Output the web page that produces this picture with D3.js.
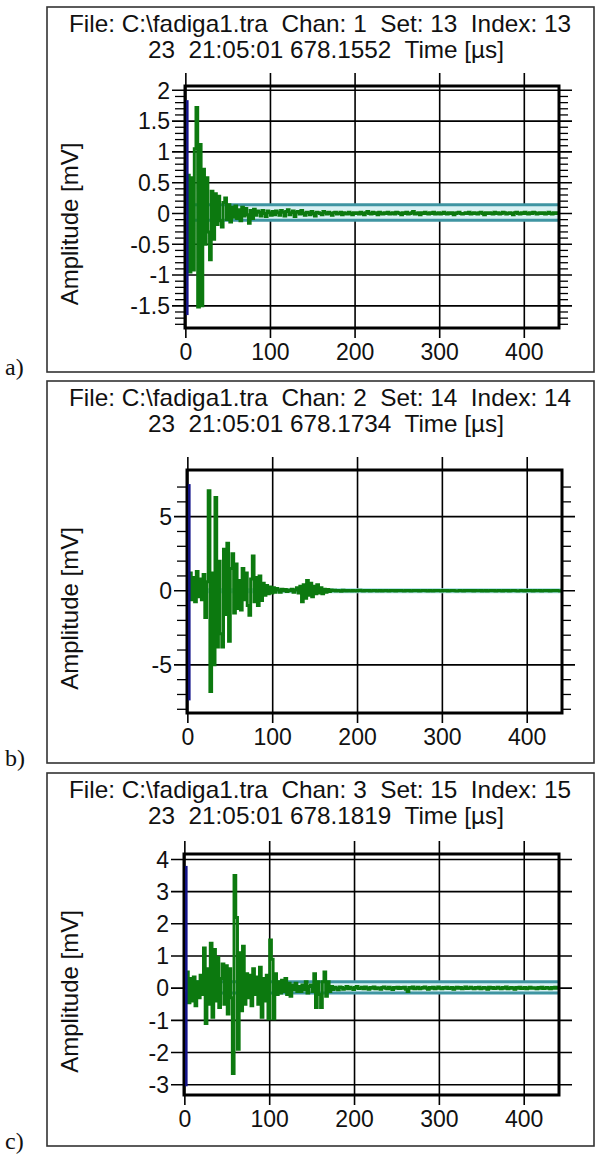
<!DOCTYPE html>
<html><head><meta charset="utf-8">
<script src="https://cdn.jsdelivr.net/npm/d3@7"></script>
<style>body{margin:0;background:#fff} svg{display:block} text{white-space:pre}</style>
</head><body><svg id="c" width="595" height="1154"></svg>
<script>
// ---------------- data ----------------
const sampleStepUs = 2;
const xTickValues = [0, 100, 200, 300, 400];
const panelLabels = ["a)", "b)", "c)"];
const titleLine1 = [
  "File: C:\\fadiga1.tra  Chan: 1  Set: 13  Index: 13",
  "File: C:\\fadiga1.tra  Chan: 2  Set: 14  Index: 14",
  "File: C:\\fadiga1.tra  Chan: 3  Set: 15  Index: 15"
];
const titleLine2 = [
  "23  21:05:01 678.1552  Time [µs]",
  "23  21:05:01 678.1734  Time [µs]",
  "23  21:05:01 678.1819  Time [µs]"
];
const yAxisLabel = "Amplitude [mV]";

const yTicksA = [-1.5, -1, -0.5, 0, 0.5, 1, 1.5, 2];
const yTicksB = [-5, 0, 5];
const yTicksC = [-3, -2, -1, 0, 1, 2, 3, 4];
const yMinorB = [-8, -7, -6, -4, -3, -2, -1, 1, 2, 3, 4, 6, 7];

const triggerA = [-1.65, 1.84];
const triggerB = [-7.4, 7.2];
const triggerC = [-3.05, 3.8];

const thresholdA = [-0.11, 0.14];
const thresholdB = [-0.08, 0.08];
const thresholdC = [-0.15, 0.2];

const ampA = [
  0,0.62,-0.95,0.58,-0.92,1.05,1.72,-1.52,1.12,-1.5,
  0.72,-0.5,0.58,-0.3,-0.75,0.36,-0.42,0.32,-0.18,0.28,
  -0.12,-0.22,0.18,0.25,-0.1,0.14,-0.14,0.1,-0.06,0.12,
  -0.08,0.06,-0.12,0.1,-0.04,0.08,-0.02,-0.16,0.05,-0.08,
  0.07,-0.03,0.04,0.02,-0.04,0.05,0.0,-0.05,0.04,0.01,
  -0.03,
  0.03,-0.02,0.04,0.01,-0.03,0.05,0.02,-0.04,0.03,0.06,
  -0.02,0.01,0.04,-0.05,0.02,0.03,-0.01,0.05,0.00,-0.03,
  0.02,0.01,-0.02,0.03,0.00,-0.04,0.02,0.01,0.00,-0.02,
  0.03,0.01,-0.01,0.02,0.00,-0.03,0.01,0.02,-0.01,0.00,
  0.02,-0.02,0.01,0.00,-0.01,0.02,0.00,-0.02,0.01,0.00,
  0.01,-0.01,0.02,0.00,-0.02,0.01,0.03,0.00,-0.01,0.02,
  0.00,0.01,-0.02,0.02,0.00,-0.01,0.01,0.00,0.02,-0.01,
  0.00,0.01,-0.01,0.02,0.01,0.00,-0.02,0.01,0.00,0.02,
  -0.01,0.00,0.01,0.03,-0.01,0.00,0.01,-0.02,0.01,0.00,
  0.02,0.00,-0.01,0.01,0.00,0.02,-0.01,0.00,0.01,-0.01,
  0.00,0.02,0.00,-0.01,0.01,0.00,0.01,-0.02,0.00,0.01,
  0.02,0.00,-0.01,0.00,0.01,0.00,0.02,-0.01,0.00,0.01,
  0.00,-0.01,0.01,0.02,0.00,-0.02,0.01,0.00,0.01,0.00,
  -0.01,0.02,0.00,0.01,-0.01,0.00,0.02,0.01,-0.01,0.00,
  0.01,0.00,-0.02,0.01,0.02,0.00,-0.01,0.01,0.00,0.02,
  0.00,-0.01,0.01,0.00,0.02,0.01,-0.01,0.00,0.01,0.00,
  0.01,-0.01,0.00,0.02,0.00,-0.01,0.01,0.00,0.01,0.00
];

const ampB = [
  0,1.2,-0.6,0.9,-0.75,1.3,-0.4,0.8,-0.6,1.1,
  -1.8,0.6,6.75,-6.8,1.2,-5.0,6.3,-3.8,2.0,-2.9,
  -3.8,2.8,-1.6,3.2,-3.4,1.5,2.5,-1.5,1.8,-1.2,
  0.7,-1.3,1.5,-0.6,1.2,-1.0,-1.65,0.8,2.35,-0.75,
  0.9,-1.0,1.0,-0.65,0.5,-0.3,0.35,-0.2,0.25,-0.15,
  0.2,-0.1,0.15,0.05,-0.1,0.1,0.0,0.08,-0.05,0.05,
  0.0,0.1,-0.1,0.05,0.2,-0.15,0.3,-0.75,0.4,-0.5,
  0.7,-0.3,0.5,-0.4,0.3,-0.2,0.4,-0.15,0.2,-0.2,
  0.1,-0.1,0.08,-0.05,0.05,0.0,
  0.03,-0.02,0.02,0.0,-0.03,0.04,0.01,-0.02,0.02,0.0,
  -0.01,0.02,0.0,-0.02,0.01,0.03,0.0,-0.01,0.02,0.0,
  0.01,-0.02,0.0,0.02,0.01,-0.01,0.0,0.02,-0.01,0.0,
  0.02,0.0,-0.02,0.01,0.0,0.01,-0.01,0.02,0.0,0.01,
  0.0,-0.01,0.02,0.0,0.01,-0.02,0.0,0.01,0.0,0.02,
  -0.01,0.0,0.01,0.02,0.0,-0.01,0.01,0.0,-0.02,0.01,
  0.0,0.02,0.0,-0.01,0.01,0.0,0.01,-0.01,0.0,0.02,
  0.01,0.0,-0.01,0.0,0.02,0.0,-0.02,0.01,0.0,0.01,
  0.0,0.01,-0.01,0.02,0.0,0.0,0.01,-0.01,0.0,0.02,
  -0.01,0.0,0.01,0.0,0.02,-0.01,0.0,0.01,0.0,-0.01,
  0.02,0.0,0.01,-0.01,0.0,0.01,0.02,0.0,-0.01,0.0,
  0.01,0.0,-0.02,0.01,0.0,0.02,0.0,-0.01,0.01,0.0,
  0.0,0.01,-0.01,0.0,0.02,0.0,0.01,-0.01,0.0,0.01,
  0.0,0.01,0.0,-0.01,0.01
];

const ampC = [
  0,0.5,-0.45,0.3,-0.4,0.35,-0.55,0.2,-0.3,0.4,
  -0.2,1.25,-1.1,0.6,-0.5,1.4,-0.9,1.2,-0.4,0.95,
  -0.6,0.3,0.75,-0.5,0.7,-0.8,0.6,-0.3,-2.65,3.5,
  2.2,-1.9,1.1,-0.7,1.3,-0.5,0.45,-0.3,0.4,-0.55,
  0.6,-0.2,0.35,-0.5,0.65,-0.9,0.3,-0.4,0.4,-0.95,
  1.5,0.9,-0.95,0.45,-0.2,0.2,-0.15,0.25,-0.1,0.3,
  -0.2,0.15,-0.25,0.1,-0.05,0.15,-0.1,0.05,-0.1,0.1,
  -0.05,0.2,-0.15,0.05,0.1,-0.1,0.45,-0.6,0.2,-0.2,
  -0.6,0.2,0.5,-0.25,0.2,-0.1,
  0.05,-0.04,0.03,0.0,-0.05,0.04,0.02,-0.03,0.0,0.05,
  -0.02,0.03,0.0,-0.04,0.02,0.05,-0.01,0.0,0.03,-0.02,
  0.04,0.0,-0.03,0.02,0.0,0.04,-0.02,0.01,0.0,-0.03,
  0.02,0.04,0.0,-0.02,0.03,0.0,-0.04,0.02,0.0,0.03,
  -0.01,0.02,0.0,0.03,-0.03,-0.1,0.02,0.0,0.04,-0.02,
  0.0,0.03,-0.02,0.0,0.02,0.04,0.0,-0.03,0.02,0.0,
  0.03,-0.02,0.0,0.04,0.0,-0.02,0.02,0.0,0.03,-0.01,
  0.0,0.02,-0.03,0.0,0.03,0.0,0.02,-0.02,0.0,0.04,
  -0.01,0.0,0.03,0.0,-0.02,0.02,0.0,0.03,-0.02,0.0,
  0.02,0.0,-0.03,0.03,0.0,0.02,-0.01,0.0,0.03,0.0,
  -0.02,0.02,0.0,0.04,-0.02,0.0,0.02,0.0,-0.03,0.02,
  0.0,0.03,-0.01,0.0,0.02,-0.02,0.0,0.03,0.0,0.01,
  0.0,-0.02,0.02,0.0,0.03,-0.01,0.0,0.02,0.0,-0.02,
  0.02,0.0,0.03,0.0,-0.01
];

// ---------------- drawing ----------------
const svg = d3.select("#c");
const greenCol = "#0c790f", blueCol = "#14148a", teal = "#3f95a2", tealLight = "#d9f1f3";
const fontSans = "'Liberation Sans', Arial, sans-serif";

const panels = [
  {amp: ampA, ticks: yTicksA, minor: d3.range(-18, 21).map(v => v / 10).filter(v => !yTicksA.includes(v)),
   dom: [-1.86, 2.07], trig: triggerA, thr: thresholdA, band: true,
   box: [47, 7, 594, 372], plot: [185, 86, 559, 328]},
  {amp: ampB, ticks: yTicksB, minor: yMinorB,
   dom: [-8.25, 8.15], trig: triggerB, thr: thresholdB, band: false,
   box: [47, 381, 594, 763], plot: [187, 470, 562, 713]},
  {amp: ampC, ticks: yTicksC, minor: [],
   dom: [-3.32, 4.17], trig: triggerC, thr: thresholdC, band: true,
   box: [47, 773, 594, 1146], plot: [184, 854, 559, 1095]}
];

panels.forEach((p, i) => {
  const [bx0, by0, bx1, by1] = p.box;
  const [px0, py0, px1, py1] = p.plot;
  const g = svg.append("g");
  const x = d3.scaleLinear().domain([-1, 441]).range([px0, px1]);
  const y = d3.scaleLinear().domain(p.dom).range([py1, py0]);

  // outer box
  g.append("rect").attr("x", bx0).attr("y", by0).attr("width", bx1 - bx0).attr("height", by1 - by0)
    .attr("fill", "none").attr("stroke", "#333").attr("stroke-width", 1.6);

  // panel label
  g.append("text").attr("x", 5).attr("y", by1 + 3).text(panelLabels[i])
    .attr("font-family", "'Liberation Serif', 'DejaVu Serif', serif").attr("font-size", 24).attr("fill", "#111");

  // titles
  const cx = 320;
  g.append("text").attr("x", cx).attr("y", by0 + 25).attr("text-anchor", "middle")
    .attr("textLength", 502).attr("lengthAdjust", "spacingAndGlyphs")
    .attr("font-family", fontSans).attr("font-size", 24).attr("fill", "#111").text(titleLine1[i]);
  g.append("text").attr("x", cx + 6).attr("y", by0 + 51).attr("text-anchor", "middle")
    .attr("textLength", 356).attr("lengthAdjust", "spacingAndGlyphs")
    .attr("font-family", fontSans).attr("font-size", 24).attr("fill", "#111").text(titleLine2[i]);

  // y label
  const midY = (py0 + py1) / 2 + 17;
  g.append("text").attr("transform", `translate(78,${midY}) rotate(-90)`).attr("text-anchor", "middle")
    .attr("font-family", fontSans).attr("font-size", 24).attr("fill", "#111").text(yAxisLabel);

  // vertical grid (x ticks) extending out
  g.selectAll(".vg").data(xTickValues).enter().append("line")
    .attr("x1", d => x(d)).attr("x2", d => x(d)).attr("y1", py0 - 13).attr("y2", py1 + 10)
    .attr("stroke", "#000").attr("stroke-width", 1.6);
  // x tick labels
  g.selectAll(".xl").data(xTickValues).enter().append("text")
    .attr("x", d => x(d)).attr("y", py1 + 32).attr("text-anchor", "middle")
    .attr("font-family", fontSans).attr("font-size", 23).attr("fill", "#111").text(d => String(d));

  // horizontal grid (y ticks)
  g.selectAll(".hg").data(p.ticks).enter().append("line")
    .attr("x1", px0 - 13).attr("x2", px1 + 13).attr("y1", d => y(d)).attr("y2", d => y(d))
    .attr("stroke", "#000").attr("stroke-width", 1.6);
  g.selectAll(".yl").data(p.ticks).enter().append("text")
    .attr("x", px0 - 15).attr("y", d => y(d)).attr("dy", "0.36em").attr("text-anchor", "end")
    .attr("font-family", fontSans).attr("font-size", 23).attr("fill", "#111").text(d => String(d));
  // minor ticks both sides
  g.selectAll(".ml").data(p.minor).enter().append("line")
    .attr("x1", px0 - 10).attr("x2", px0).attr("y1", d => y(d)).attr("y2", d => y(d))
    .attr("stroke", "#000").attr("stroke-width", 1.3);
  g.selectAll(".mr").data(p.minor).enter().append("line")
    .attr("x1", px1).attr("x2", px1 + 9).attr("y1", d => y(d)).attr("y2", d => y(d))
    .attr("stroke", "#000").attr("stroke-width", 1.3);

  // threshold band
  const clipId = "clip" + i;
  g.append("clipPath").attr("id", clipId).append("rect")
    .attr("x", px0).attr("y", py0).attr("width", px1 - px0).attr("height", py1 - py0);
  const inner = g.append("g").attr("clip-path", `url(#${clipId})`);
  inner.append("rect").attr("x", x(0)).attr("width", px1 - x(0))
    .attr("y", y(p.thr[1])).attr("height", y(p.thr[0]) - y(p.thr[1]))
    .attr("fill", tealLight);
  inner.selectAll(".thr").data(p.thr).enter().append("line")
    .attr("x1", x(0)).attr("x2", px1).attr("y1", d => y(d)).attr("y2", d => y(d))
    .attr("stroke", p.band ? teal : "#9fdbe0").attr("stroke-width", p.band ? 3 : 2.5);

  // waveform
  const line = d3.line().x((d, k) => x(k * sampleStepUs)).y(d => y(d)).curve(d3.curveStepAfter);
  inner.append("path").datum(p.amp).attr("d", line)
    .attr("fill", "none").attr("stroke", greenCol).attr("stroke-width", 3).attr("stroke-linejoin", "miter");

  // frame
  g.append("rect").attr("x", px0).attr("y", py0).attr("width", px1 - px0).attr("height", py1 - py0)
    .attr("fill", "none").attr("stroke", "#000").attr("stroke-width", 3);

  // trigger line at t=0
  g.append("line").attr("x1", x(0) + 1.5).attr("x2", x(0) + 1.5)
    .attr("y1", y(p.trig[0])).attr("y2", y(p.trig[1]))
    .attr("stroke", blueCol).attr("stroke-width", 2.5);
});
</script>
</body></html>
